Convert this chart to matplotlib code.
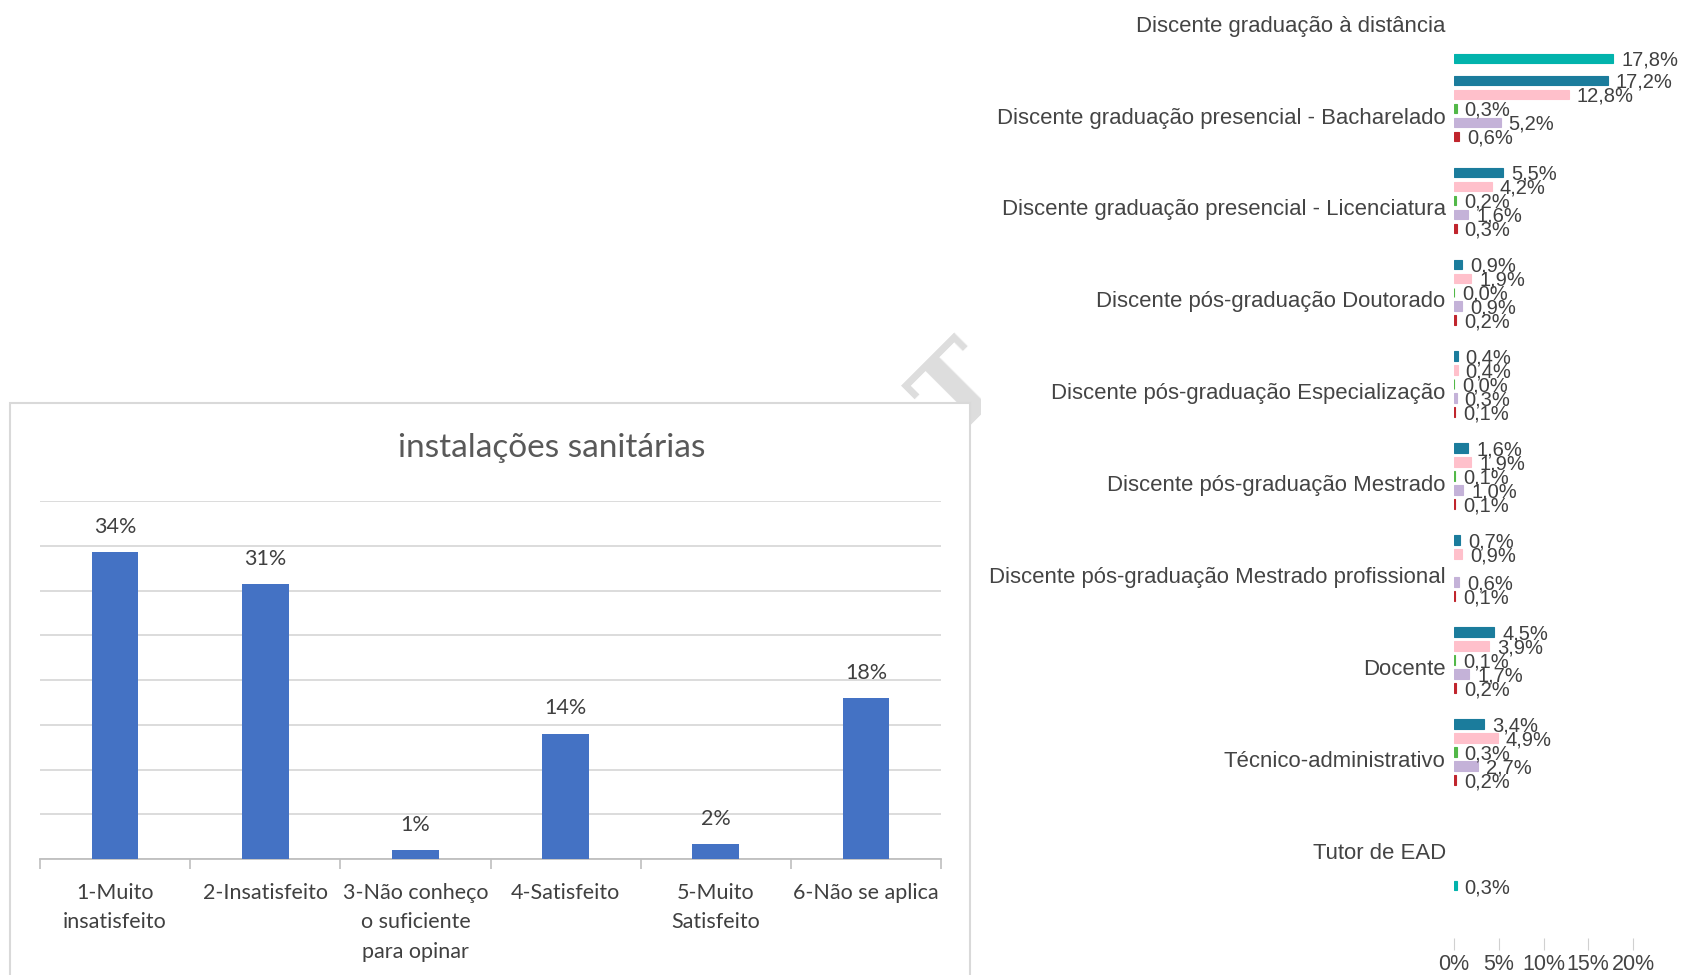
import matplotlib.pyplot as plt
import numpy as np
from matplotlib.patches import Rectangle

W, H = 1682, 975

# left chart data
cats_left = ['1-Muito\ninsatisfeito', '2-Insatisfeito', '3-Não conheço\no suficiente\npara opinar',
             '4-Satisfeito', '5-Muito\nSatisfeito', '6-Não se aplica']
vals_left = [34.3, 30.7, 1.0, 14, 1.7, 18]
labels_left = ['34%', '31%', '1%', '14%', '2%', '18%']
yticks_left = [0, 5, 10, 15, 20, 25, 30, 35, 40]

# right chart data (None = no bar)
groups = ['Discente graduação à distância',
          'Discente graduação presencial - Bacharelado',
          'Discente graduação presencial - Licenciatura',
          'Discente pós-graduação Doutorado',
          'Discente pós-graduação Especialização',
          'Discente pós-graduação Mestrado',
          'Discente pós-graduação Mestrado profissional',
          'Docente',
          'Técnico-administrativo',
          'Tutor de EAD']
s_blue = [None, 17.2, 5.5, 0.9, 0.4, 1.6, 0.7, 4.5, 3.4, None]
s_pink = [None, 12.8, 4.2, 1.9, 0.4, 1.9, 0.9, 3.9, 4.9, None]
s_green = [None, 0.3, 0.2, 0.0, 0.0, 0.1, None, 0.1, 0.3, None]
s_lilac = [None, 5.2, 1.6, 0.9, 0.3, 1.0, 0.6, 1.7, 2.7, None]
s_red = [None, 0.6, 0.3, 0.2, 0.1, 0.1, 0.1, 0.2, 0.2, None]
s_teal = [17.8, None, None, None, None, None, None, None, None, 0.3]
xticks_right = [0, 5, 10, 15, 20]

series = [s_blue, s_pink, s_green, s_lilac, s_red, s_teal]
colors = ['#1B7C9C', '#FFC0CB', '#52B848', '#C4B2D8', '#C0252D', '#02B3AC']

fig = plt.figure(figsize=(W / 100, H / 100), dpi=100)

# watermark fragment behind the panels
fig.text(962 / W, 1 - 392 / H, 'T', fontsize=75, fontweight='bold', family='DejaVu Serif',
         color='#DDDDDD', rotation=45, ha='center', va='center', zorder=0)
fig.add_artist(Rectangle((981 / W, 0), 1 - 981 / W, 1, transform=fig.transFigure,
                         facecolor='white', edgecolor='none', zorder=1))
fig.add_artist(Rectangle((10 / W, -0.01), 960 / W, 1 - 403 / H + 0.01, transform=fig.transFigure,
                         facecolor='white', edgecolor='#D9D9D9', lw=1.5, zorder=1))

# ---- left chart
axl = fig.add_axes([40 / W, 1 - 859 / H, 901 / W, 358 / H], zorder=2)
axl.patch.set_alpha(0)
x = np.arange(len(cats_left))
axl.bar(x, vals_left, width=0.31, color='#4472C4', zorder=3)
for xi, v, lab in zip(x, vals_left, labels_left):
    axl.text(xi, v + 1.7, lab, ha='center', va='bottom', fontsize=15.5, family='Lato', color='#404040')
axl.set_xlim(-0.5, 5.5)
axl.set_ylim(0, 40)
axl.set_yticks(yticks_left)
axl.yaxis.grid(True, color='#D9D9D9', lw=1.3)
axl.set_axisbelow(True)
axl.tick_params(axis='y', length=0, labelleft=False)
axl.set_xticks(x)
axl.set_xticklabels(cats_left, family='Lato', fontsize=15.5, color='#404040', linespacing=1.6)
axl.set_xticks(np.arange(-0.5, 6, 1), minor=True)
axl.tick_params(axis='x', which='major', length=0, pad=17)
axl.tick_params(axis='x', which='minor', length=7, color='#BFBFBF', width=1.2)
for s in ['top', 'right', 'left']:
    axl.spines[s].set_visible(False)
axl.spines['bottom'].set_color('#BFBFBF')
axl.spines['bottom'].set_linewidth(1.3)
fig.text(552 / W, 1 - 448 / H, 'instalações sanitárias', ha='center', va='center',
         fontsize=24, family='Lato', color='#595959', zorder=3)

# ---- right chart
axr = fig.add_axes([1454 / W, 1 - 950 / H, 179 / W, 950 / H], zorder=2)
axr.patch.set_alpha(0)
y = np.arange(len(groups))
step = 0.152
for k, (vals, c) in enumerate(zip(series, colors)):
    off = (k - 2.5) * step
    for yi, v in zip(y, vals):
        if v is None:
            continue
        axr.barh(yi + off, v, height=0.105, color=c, edgecolor=c, lw=0.8)
        axr.text(v + 0.9, yi + off + 0.02, f'{v:.1f}'.replace('.', ',') + '%', ha='left', va='center',
                 fontsize=14.5, family='Liberation Sans', color='#404040')
axr.set_ylim(10.08, -0.257)
axr.set_xlim(0, 20)
axr.set_yticks(y)
axr.set_yticklabels(groups, family='Liberation Sans', fontsize=15.9, color='#444444')
axr.tick_params(axis='y', length=0, pad=6)
axr.set_xticks(xticks_right)
axr.set_xticklabels([f'{t}%' for t in xticks_right], family='Liberation Sans', fontsize=15.5,
                    color='#444444')
axr.tick_params(axis='x', direction='in', length=9, color='#D0D0D0', pad=3)
for s in axr.spines.values():
    s.set_visible(False)

fig.savefig('out.png', dpi=100)
